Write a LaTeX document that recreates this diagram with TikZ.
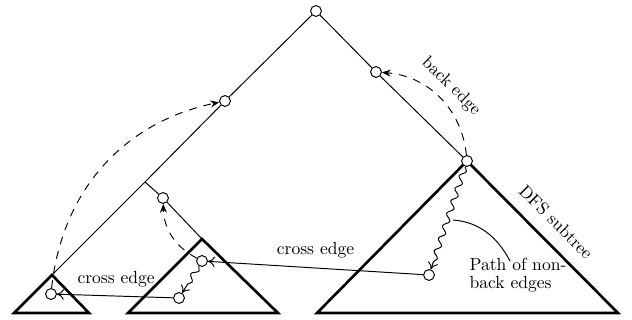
\documentclass[tikz,border=0pt]{standalone}
\usetikzlibrary{decorations.pathmorphing,arrows.meta}
\begin{document}
\begin{tikzpicture}[x=0.57pt,y=0.57pt,
  vtx/.style={circle,draw,fill=white,minimum size=6.2pt,inner sep=0pt,line width=0.55pt},
  thin/.style={line width=0.55pt},
  tri/.style={line width=1.5pt,line join=miter},
  backedge/.style={thin,dash pattern=on 4.5pt off 4pt,-{Stealth[length=5pt,width=4pt]}},
  crossedge/.style={thin,-{To[length=4pt,width=6pt]}},
  wavy/.style={thin,decorate,decoration={snake,amplitude=1.6pt,segment length=7.5pt,post length=3pt},-{To[length=4pt,width=6pt]}},
  lbl/.style={font=\fontsize{10}{10.3}\selectfont}]
\useasboundingbox (0,0) rectangle (632,-320);
% subtrees
\draw[tri] (467,-161) -- (317,-313) -- (618,-313) -- cycle;
\draw[tri] (202,-239) -- (128,-313) -- (278,-313) -- cycle;
\draw[tri] (52,-275) -- (14,-313) -- (89,-313) -- cycle;
% tree nodes
\coordinate (p) at (145,-182);
\coordinate (sa) at (52,-275);
\coordinate (ma) at (202,-239);
\node[vtx] (r) at (316,-11) {};
\node[vtx] (n1) at (376,-72) {};
\node[vtx] (b) at (467,-161) {};
\node[vtx] (n2) at (225,-101) {};
\node[vtx] (n3) at (163,-198) {};
\node[vtx] (c) at (429,-275) {};
\node[vtx] (A) at (202,-261) {};
\node[vtx] (B) at (179,-298) {};
\node[vtx] (s) at (51,-294) {};
% tree edges
\draw[thin] (r) -- (n1) -- (b);
\draw[thin] (r) -- (n2) -- (p) -- (sa);
\draw[thin] (p) -- (n3) -- (ma);
% back edges
\draw[backedge] (s) to[bend left=36] (n2);
\draw[backedge] (A) to[bend left=30] (n3);
\draw[backedge] (b) to[bend right=40] node[midway,sloped,above,lbl,solid,yshift=1pt] {back edge} (n1);
% cross edges
\draw[crossedge] (c) -- node[pos=0.5,above,lbl,yshift=2pt] {cross edge} (A);
\draw[crossedge] (B) -- node[pos=0.49,above,lbl,yshift=1.5pt] {cross edge} (s);
% paths of non-back edges
\draw[wavy] (b) -- (c);
\draw[wavy] (A) -- (B);
% annotation
\coordinate (ps) at (453,-220);
\coordinate (pe) at (510,-261);
\draw[thin] (ps) .. controls (480,-222) and (498,-238) .. (pe);
\node[lbl,align=left,inner sep=0pt] (pt) at (518,-275) {Path of non-\\back edges};
\node[lbl,rotate=-45] (dfs) at (556,-222) {DFS subtree};
\end{tikzpicture}
\end{document}
